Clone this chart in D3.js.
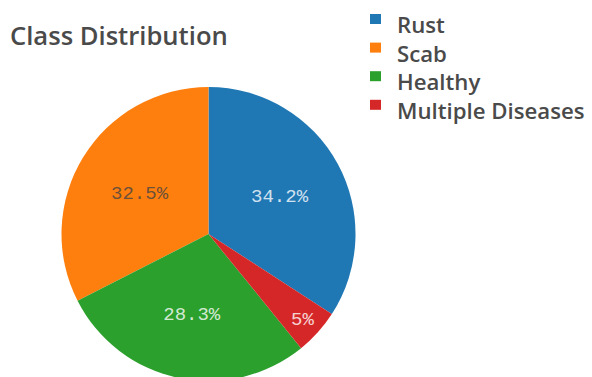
<!DOCTYPE html>
<html>
<head>
<meta charset="utf-8">
<script src="https://cdn.jsdelivr.net/npm/d3@7"></script>
<style>
  html, body { margin: 0; padding: 0; background: #fff; }
  svg { display: block; }
</style>
</head>
<body>
<svg id="chart" width="592" height="377"></svg>
<script>
// Image counts per class (leaf disease dataset)
const categories = ["Rust", "Scab", "Healthy", "Multiple Diseases"];
const counts = [622, 592, 516, 91];
const colors = ["#1f77b4", "#ff7f0e", "#2ca02c", "#d62728"];
const labelInk = ["#ffffff", "#444444", "#ffffff", "#ffffff"];
const title = "Class Distribution";

const svg = d3.select("#chart");
const cx = 208.5, cy = 234, R = 147;

const total = d3.sum(counts);
const rows = categories.map((name, i) => ({ name, value: counts[i], color: colors[i], ink: labelInk[i] }));

// Largest slice sits right of 12 o'clock; the rest run counter-clockwise from the top.
const firstShare = d3.max(counts) / total;
const a0 = 2 * Math.PI * firstShare;
const pie = d3.pie()
  .value(d => d.value)
  .sort((a, b) => b.value - a.value)
  .startAngle(a0)
  .endAngle(a0 - 2 * Math.PI);

const arc = d3.arc().innerRadius(0).outerRadius(R);
const slices = pie(rows);

const g = svg.append("g").attr("transform", `translate(${cx},${cy})`);

g.selectAll("path.slice")
  .data(slices)
  .join("path")
  .attr("class", "slice")
  .attr("d", arc)
  .attr("fill", d => d.data.color);

// Percent labels inside each slice; narrow slices get pushed towards the rim
const fmt = v => {
  const p = Math.round(v / total * 1000) / 10;
  return (p % 1 === 0 ? p.toFixed(0) : p.toFixed(1)) + "%";
};
g.selectAll("text.pct")
  .data(slices)
  .join("text")
  .attr("class", "pct")
  .attr("transform", d => {
    const span = Math.abs(d.endAngle - d.startAngle);
    const r = span < 0.6 ? R * 0.86 : R * 0.55;
    const a = (d.startAngle + d.endAngle) / 2;
    return `translate(${r * Math.sin(a)},${-r * Math.cos(a)})`;
  })
  .attr("text-anchor", "middle")
  .attr("dy", "0.36em")
  .attr("font-family", "'Liberation Mono', 'DejaVu Sans Mono', monospace")
  .attr("font-size", 19)
  .attr("fill", d => d.data.ink)
  .attr("fill-opacity", 0.8)
  .text(d => fmt(d.data.value));

// Title
svg.append("text")
  .attr("x", 10)
  .attr("y", 45)
  .attr("font-family", "'Open Sans', sans-serif")
  .attr("font-weight", 600)
  .attr("font-size", 25.6)
  .attr("fill", "#4a4a4a")
  .text(title);

// Legend
const legend = svg.append("g").attr("transform", "translate(370,0)");
const item = legend.selectAll("g.item")
  .data(rows)
  .join("g")
  .attr("class", "item")
  .attr("transform", (d, i) => `translate(0,${33 + i * 28.6})`);
item.append("rect")
  .attr("x", 0)
  .attr("y", -19)
  .attr("width", 11)
  .attr("height", 10)
  .attr("fill", d => d.color);
item.append("text")
  .attr("x", 27)
  .attr("y", 0)
  .attr("font-family", "'Open Sans', sans-serif")
  .attr("font-weight", 600)
  .attr("font-size", 22.2)
  .attr("fill", "#4a4a4a")
  .text(d => d.name);
</script>
</body>
</html>
